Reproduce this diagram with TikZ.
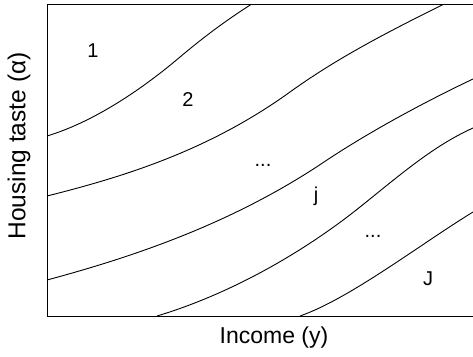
\documentclass[tikz,border=0pt]{standalone}
\usepackage{fontspec}
\setmainfont{Liberation Sans}
\usetikzlibrary{positioning}

\begin{document}
\begin{tikzpicture}[
  x=1pt, y=-1pt,
  frontier/.style={line width=0.9pt},
  region/.style={font=\fontsize{20}{24}\selectfont, inner sep=0pt},
  axislabel/.style={font=\fontsize{23}{27}\selectfont, inner sep=0pt}
]
  \useasboundingbox (0,0) rectangle (473,356);
  % axes
  \draw[line width=1pt] (473,4.5) -- (47,4.5) -- (47,316) -- (473,316);
  % frontiers between the types
  \draw[frontier] (47,136) .. controls (92,122.5) and (140,91) .. (180,57)
                           .. controls (205,36) and (226,20.5) .. (251,4.5);
  \draw[frontier] (47,196) .. controls (127,176) and (210,149.6) .. (290,92)
                           .. controls (340,56) and (393,29.5) .. (443,4.5);
  \draw[frontier] (47,280) .. controls (140,255) and (237,221) .. (327,160)
                           .. controls (377,127) and (433,98) .. (473,79);
  \draw[frontier] (157,316) .. controls (227,295) and (300,255) .. (360,207)
                            .. controls (400,175) and (433,146) .. (473,128);
  \draw[frontier] (300,316) .. controls (350,298.5) and (420,244.5) .. (473,212);
  % type labels
  \node[region] (t1) at (93,51) {1};
  \node[region] (t2) at (188,100) {2};
  \node[region] (td1) at (263,165) {...};
  \node[region] (tj) at (316,196) {j};
  \node[region] (td2) at (373,236) {...};
  \node[region] (tJ) at (428,279) {J};
  % axis labels
  \node[axislabel] (ylab) at (274,338) {Income (y)};
  \node[axislabel, font=\fontsize{24.5}{28}\selectfont, rotate=90] (alab) at (19,146) {Housing taste (α)};
\end{tikzpicture}
\end{document}
